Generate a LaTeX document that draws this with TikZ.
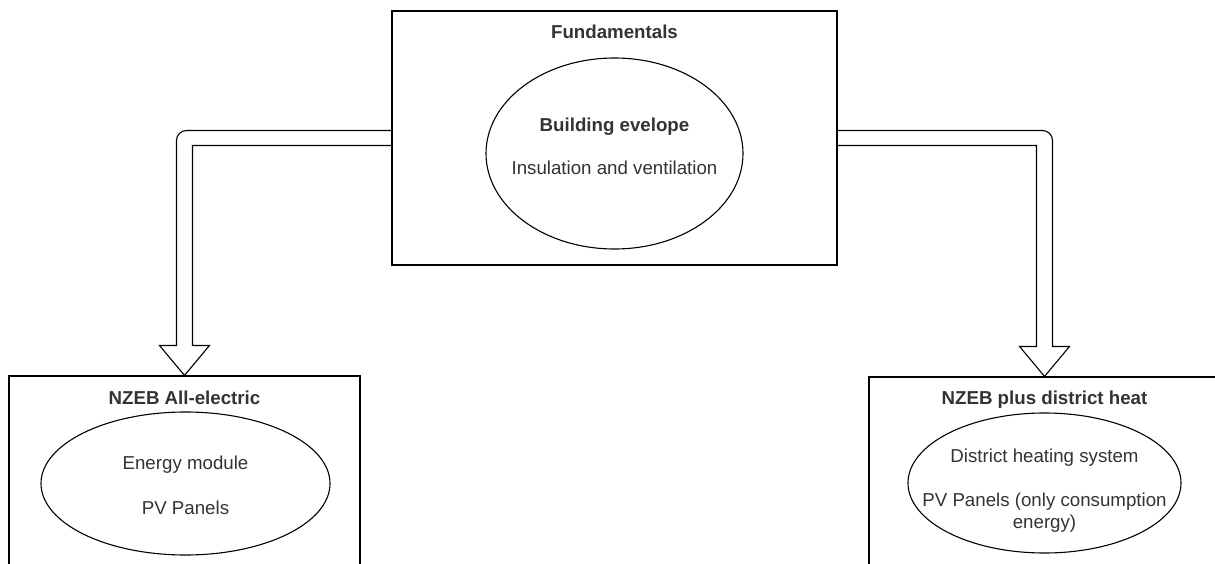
\documentclass[tikz,border=0pt]{standalone}
\usepackage{fontspec}
\setmainfont{Liberation Sans}
\usetikzlibrary{shapes.geometric,calc}
\definecolor{txt}{HTML}{333333}
\begin{document}
\begin{tikzpicture}[x=1pt,y=-1pt,line width=1.1pt,
  box/.style={draw,rectangle,inner sep=0pt},
  ell/.style={draw,ellipse,inner sep=0pt},
  lbl/.style={inner sep=0pt,text=txt,font=\fontsize{18.7}{22}\selectfont,text height=13.4pt,text depth=0pt},
  ttl/.style={lbl,font=\fontsize{18.7}{22}\selectfont\bfseries},
  fatarrow/.style={draw,line join=miter}]
\path[use as bounding box,clip] (0,0) rectangle (1215,564);

% boxes
\node[box,minimum width=445pt,minimum height=254pt] (top) at (614.5,138) {};
\node[box,minimum width=351pt,minimum height=244pt] (lbox) at (184.5,498) {};
\node[box,minimum width=351pt,minimum height=244pt] (rbox) at (1044.5,499) {};

% titles
\node[ttl] (ttop) at ($(top.north)+(0,21)$) {Fundamentals};
\node[ttl] (tl) at ($(lbox.north)+(0,22)$) {NZEB All-electric};
\node[ttl] (tr) at ($(rbox.north)+(0,21)$) {NZEB plus district heat};

% ellipses
\node[ell,minimum width=257pt,minimum height=191pt] (etop) at (614.5,153.5) {};
\node[ell,minimum width=289pt,minimum height=143pt] (el) at (185.5,483.5) {};
\node[ell,minimum width=273pt,minimum height=140pt] (er) at (1044.5,483) {};

% ellipse texts
\node[ttl] (a1) at ($(etop.center)+(0,-28.5)$) {Building evelope};
\node[lbl] (a2) at ($(etop.center)+(0,14.5)$) {Insulation and ventilation};
\node[lbl] (b1) at ($(el.center)+(0,-20.5)$) {Energy module};
\node[lbl] (b2) at ($(el.center)+(0,24.5)$) {PV Panels};
\node[lbl] (c1) at ($(er.center)+(0,-27)$) {District heating system};
\node[lbl] (c2) at ($(er.center)+(0,17)$) {PV Panels (only consumption};
\node[lbl] (c3) at ($(er.center)+(0,39)$) {energy)};

% fat arrows
\draw[fatarrow] let \p1=(top.west), \p2=(lbox.north) in
  (\x1,\y1+7.5pt) -- (\x2+2pt,\y1+7.5pt)
  arc[start angle=90,end angle=180,radius=10pt]
  -- (\x2-8pt,\y2+30pt) -- (\x2-25pt,\y2+30pt) -- (\x2,\y2)
  -- (\x2+25pt,\y2+30pt) -- (\x2+8pt,\y2+30pt)
  -- (\x2+8pt,\y1-7.5pt) -- (\x1,\y1-7.5pt);
\draw[fatarrow] let \p1=(top.east), \p2=(rbox.north) in
  (\x1,\y1+7.5pt) -- (\x2-2pt,\y1+7.5pt)
  arc[start angle=90,end angle=0,radius=10pt]
  -- (\x2+8pt,\y2+30pt) -- (\x2+25pt,\y2+30pt) -- (\x2,\y2)
  -- (\x2-25pt,\y2+30pt) -- (\x2-8pt,\y2+30pt)
  -- (\x2-8pt,\y1-7.5pt) -- (\x1,\y1-7.5pt);
\end{tikzpicture}
\end{document}
